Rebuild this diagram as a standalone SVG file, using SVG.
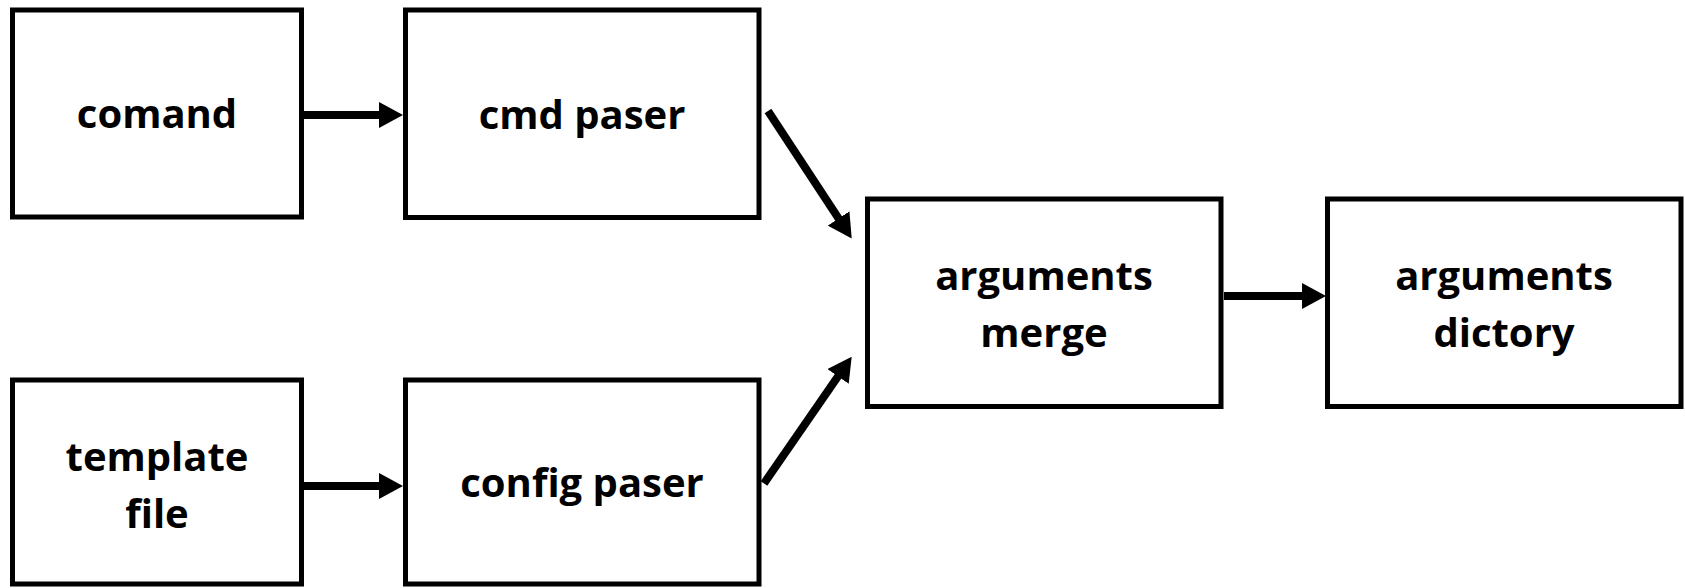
<svg xmlns="http://www.w3.org/2000/svg" width="1685" height="588" viewBox="0 0 1685 588">
  <style>
    .box { fill: #ffffff; stroke: #000000; stroke-width: 5; }
    .label { font-family: "Open Sans", "Liberation Sans", sans-serif; font-weight: bold; font-size: 40px; fill: #000000; text-anchor: middle; }
    .link { stroke: #000000; stroke-width: 8; fill: none; marker-end: url(#head); }
  </style>
  <defs>
    <marker id="head" markerUnits="userSpaceOnUse" markerWidth="24" markerHeight="26" refX="1" refY="13" orient="auto">
      <path d="M0,0 L24,13 L0,26 Z" fill="#000000"/>
    </marker>
  </defs>
  <rect width="1685" height="588" fill="#ffffff"/>

  <g id="comand">
    <rect class="box" x="12.5" y="10" width="289" height="207"/>
    <text class="label" x="157" y="128">comand</text>
  </g>
  <g id="cmd-paser">
    <rect class="box" x="405.5" y="10" width="353.5" height="207.5"/>
    <text class="label" x="582" y="129">cmd paser</text>
  </g>
  <g id="template-file">
    <rect class="box" x="12.5" y="380" width="289" height="204"/>
    <text class="label" x="157" y="471">template</text>
    <text class="label" x="157" y="528">file</text>
  </g>
  <g id="config-paser">
    <rect class="box" x="405.5" y="380" width="353.5" height="204"/>
    <text class="label" x="582" y="497">config paser</text>
  </g>
  <g id="arguments-merge">
    <rect class="box" x="867.5" y="199" width="353.5" height="207.5"/>
    <text class="label" x="1044" y="290">arguments</text>
    <text class="label" x="1044" y="347">merge</text>
  </g>
  <g id="arguments-dictory">
    <rect class="box" x="1327.5" y="199" width="353.5" height="207.5"/>
    <text class="label" x="1504" y="290">arguments</text>
    <text class="label" x="1504" y="347">dictory</text>
  </g>

  <g id="connectors">
    <line class="link" x1="304" y1="115" x2="380" y2="115"/>
    <line class="link" x1="304" y1="486" x2="380" y2="486"/>
    <line class="link" x1="768" y1="111" x2="839.1" y2="219.3"/>
    <line class="link" x1="764" y1="483.5" x2="838.6" y2="375.6"/>
    <line class="link" x1="1224" y1="296" x2="1303" y2="296"/>
  </g>
</svg>
